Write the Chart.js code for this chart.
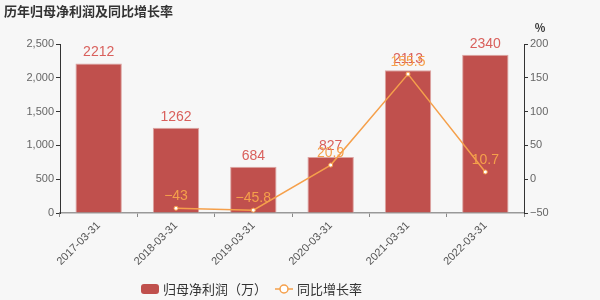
<!DOCTYPE html>
<html>
<head>
<meta charset="utf-8">
<script src="https://cdn.jsdelivr.net/npm/chart.js@4"></script>
<style>
  html, body { margin: 0; padding: 0; background: #f7f7f7; }
  #wrap { position: relative; width: 600px; height: 300px; }
</style>
</head>
<body>
<div id="wrap"><canvas id="c" width="600" height="300"></canvas></div>
<script>
const categories = ['2017-03-31', '2018-03-31', '2019-03-31', '2020-03-31', '2021-03-31', '2022-03-31'];
const profit = [2212, 1262, 684, 827, 2113, 2340];
const growth = [null, -43, -45.8, 20.9, 155.5, 10.7];
const leftTicks = [0, 500, 1000, 1500, 2000, 2500];
const rightTicks = [-50, 0, 50, 100, 150, 200];

const barColor = '#c0504d';
const lineColor = '#f5a04b';
const fontFam = '"Noto Sans CJK SC", "Noto Sans", sans-serif';
const numFam = '"Liberation Sans", "Noto Sans CJK SC", sans-serif';
const minus = s => String(s).replace('-', '\u2212');

// title, % label, value labels and legend
const extras = {
  id: 'extras',
  afterDatasetsDraw(chart) {
    const ctx = chart.ctx;
    ctx.save();
    ctx.textAlign = 'center';
    ctx.textBaseline = 'bottom';
    ctx.font = '14px ' + numFam;
    // dataset 1 = bars, dataset 0 = line
    chart.getDatasetMeta(1).data.forEach((el, i) => {
      ctx.fillStyle = '#d9605c';
      ctx.fillText(profit[i], el.x, el.y - 4);
    });
    chart.getDatasetMeta(0).data.forEach((el, i) => {
      if (growth[i] === null) return;
      ctx.fillStyle = lineColor;
      ctx.fillText(minus(growth[i]), el.x, el.y - 5);
    });
    ctx.restore();
  },
  afterDraw(chart) {
    const ctx = chart.ctx;
    ctx.save();
    ctx.fillStyle = '#333';
    ctx.font = 'bold 13px ' + fontFam;
    ctx.textBaseline = 'middle';
    ctx.textAlign = 'left';
    ctx.fillText('历年归母净利润及同比增长率', 4, 11);
    ctx.font = 'bold 11px ' + fontFam;
    ctx.textAlign = 'center';
    ctx.fillText('%', 540, 28);

    // legend
    const y = 289;
    ctx.font = '13px ' + fontFam;
    ctx.fillStyle = barColor;
    ctx.beginPath();
    ctx.roundRect(141, y - 5, 18, 10, 3);
    ctx.fill();
    ctx.fillStyle = '#333';
    ctx.textAlign = 'left';
    ctx.fillText('归母净利润（万）', 163, y);
    ctx.strokeStyle = lineColor;
    ctx.lineWidth = 1.5;
    ctx.beginPath();
    ctx.moveTo(275, y); ctx.lineTo(293, y);
    ctx.stroke();
    ctx.fillStyle = '#fff';
    ctx.beginPath();
    ctx.arc(284, y, 4, 0, Math.PI * 2);
    ctx.fill(); ctx.stroke();
    ctx.fillStyle = '#333';
    ctx.fillText('同比增长率', 297, y);
    ctx.restore();
  }
};

new Chart(document.getElementById('c'), {
  data: {
    labels: categories,
    datasets: [
      {
        type: 'line',
        label: '同比增长率',
        data: growth,
        yAxisID: 'y1',
        borderColor: lineColor,
        borderWidth: 1.5,
        pointRadius: 2,
        pointBackgroundColor: '#fff',
        pointBorderColor: lineColor,
        pointBorderWidth: 1,
        tension: 0,
        order: 0
      },
      {
        type: 'bar',
        label: '归母净利润（万）',
        data: profit,
        yAxisID: 'y',
        backgroundColor: barColor,
        borderColor: '#dca5a3',
        borderWidth: 1,
        barPercentage: 0.6,
        categoryPercentage: 1,
        order: 1
      }
    ]
  },
  options: {
    responsive: false,
    animation: false,
    layout: { padding: { top: 44, left: 0, right: 0, bottom: 0 } },
    plugins: { legend: { display: false }, tooltip: { enabled: false } },
    scales: {
      x: {
        offset: true,
        afterFit(s) { s.height = 87; },
        grid: { display: true, drawOnChartArea: false, offset: true, tickLength: 4, color: '#888' },
        border: { color: '#999', width: 1.5 },
        ticks: { maxRotation: 45, minRotation: 45, color: '#555', font: { size: 11, family: numFam }, padding: 2 }
      },
      y: {
        position: 'left',
        min: 0, max: 2500,
        afterFit(s) { s.width = 60; },
        afterBuildTicks(s) { s.ticks = leftTicks.map(v => ({ value: v })); },
        grid: { drawOnChartArea: false, tickLength: 4, color: '#333' },
        border: { color: '#333' },
        ticks: { color: '#666', font: { size: 11, family: numFam }, padding: 2,
          callback: v => v.toLocaleString('en-US') }
      },
      y1: {
        position: 'right',
        min: -50, max: 200,
        afterFit(s) { s.width = 76; },
        afterBuildTicks(s) { s.ticks = rightTicks.map(v => ({ value: v })); },
        grid: { drawOnChartArea: false, tickLength: 4, color: '#333' },
        border: { color: '#333' },
        ticks: { color: '#666', font: { size: 11, family: numFam }, padding: 2,
          callback: v => minus(v) }
      }
    }
  },
  plugins: [extras]
});
</script>
</body>
</html>
